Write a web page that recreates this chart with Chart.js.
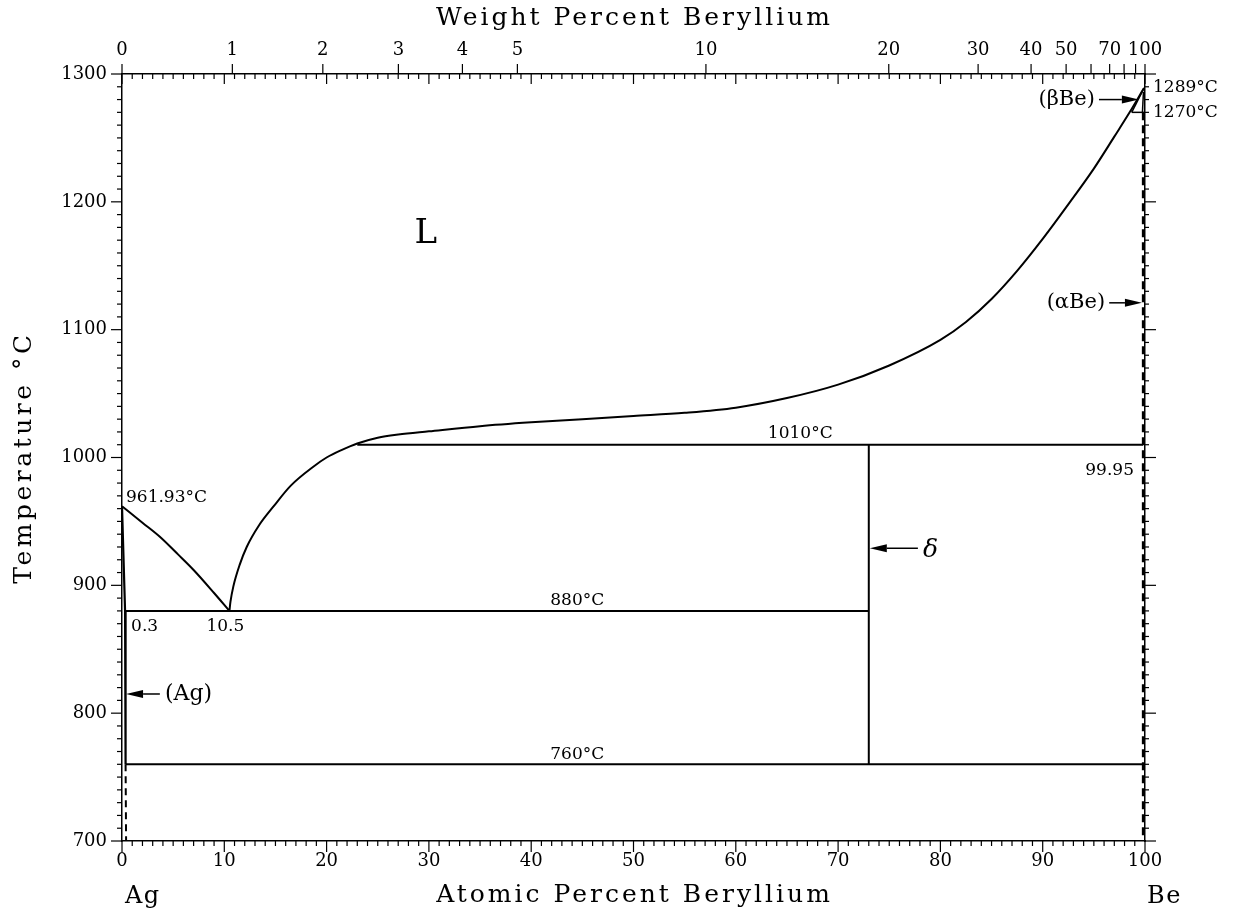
<!DOCTYPE html>
<html><head><meta charset="utf-8">
<script src="https://cdn.jsdelivr.net/npm/chart.js@4/dist/chart.umd.min.js"></script>
<style>html,body{margin:0;padding:0;background:#fff;}#wrap{width:1233px;height:916px;}</style>
</head><body><div id="wrap"><canvas id="c" width="1233" height="916"></canvas></div>
<script>
// ---------- data ----------
const atTickValues = [0,10,20,30,40,50,60,70,80,90,100];
const tempTickValues = [700,800,900,1000,1100,1200,1300];
const wtTickValues = [0,1,2,3,4,5,10,20,30,40,50,70,100];
const wtTickLabels = ['0','1','2','3','4','5','10','20','30','40','50','70','100'];
const wtUnlabeled = [60,80,90];

// liquidus, Ag side (Ag melting point to eutectic)
const liqAgAt = [0, 2, 3.7, 5.5, 7, 9, 10.5];
const liqAgT  = [961.93, 949, 938, 924, 912, 894, 880];
// liquidus, from eutectic to Be melting point
const liqBeAt = [10.5, 10.6, 10.88, 11.5, 12.19, 13.4, 14.79, 16.5, 18.7, 20, 21.5, 23, 25, 27, 30, 35, 40, 45, 50, 55, 60, 65, 70, 75, 80, 82.5, 85, 87.5, 90, 92.5, 95, 97, 98.5, 99.9];
const liqBeT  = [880, 887, 899, 916, 930, 947, 961.5, 978, 992.8, 1000, 1006, 1011, 1015.5, 1018, 1020.5, 1024.5, 1027.5, 1030, 1032.5, 1035, 1039, 1046.5, 1057, 1072, 1092, 1106, 1124, 1146, 1171, 1198, 1226, 1251, 1270, 1289];
// (Ag) solvus / solidus
const agSolidAt = [0, 0.3, 0.35];
const agSolidT  = [961.93, 880, 760];
const agDashAt  = [0.35, 0.4];
const agDashT   = [760, 700];
// (Be) side
const beSolidusAt = [99.9, 98.7];
const beSolidusT  = [1289, 1270];
const beTrans1270At = [98.7, 99.95];
const beTrans1270T  = [1270, 1270];
const beBetaSolvAt = [99.75, 99.85];
const beBetaSolvT  = [1270, 1286];
const beDashAt = [99.8, 99.8];
const beDashT  = [1270, 700];
// invariant lines
const iso1010At = [23, 99.8];   const iso1010T = [1010, 1010];
const iso880At  = [0.3, 73];    const iso880T  = [880, 880];
const iso760At  = [0.35, 99.8]; const iso760T  = [760, 760];
const deltaAt   = [73, 73];     const deltaT   = [760, 1010];

// ---------- helpers ----------
const pts = (xs, ys) => xs.map((v, i) => ({x: v, y: ys[i]}));
const wtToAt = w => { if (w >= 100) return 100; const a = w / 9.012, b = (100 - w) / 107.868; return 100 * a / (a + b); };
const FONT = 'DejaVu Serif';

function ds(xs, ys, opts) {
  return Object.assign({
    data: pts(xs, ys), showLine: true, borderColor: '#000', borderWidth: 2,
    pointRadius: 0, fill: false, tension: 0, xAxisID: 'x', yAxisID: 'y'
  }, opts || {});
}

const datasets = [
  ds(liqAgAt, liqAgT, {cubicInterpolationMode: 'monotone'}),
  ds(liqBeAt, liqBeT, {cubicInterpolationMode: 'monotone'}),
  ds(agSolidAt, agSolidT, {borderWidth: 2.2}),
  ds(agDashAt, agDashT, {borderDash: [7, 5]}),
  ds(beSolidusAt, beSolidusT, {borderWidth: 1.5}),
  ds(beTrans1270At, beTrans1270T, {borderWidth: 1.5}),
  ds(beBetaSolvAt, beBetaSolvT, {borderWidth: 1.5}),
  ds(beDashAt, beDashT, {borderDash: [8, 5], borderWidth: 2.2}),
  ds(iso1010At, iso1010T),
  ds(iso880At, iso880T),
  ds(iso760At, iso760T),
  ds(deltaAt, deltaT)
];

// ---------- decorations ----------
const marks = {
  id: 'marks',
  afterDraw(chart) {
    const {ctx, chartArea: a, scales} = chart;
    const X = v => scales.x.getPixelForValue(v);
    const Y = v => scales.y.getPixelForValue(v);
    ctx.save();
    ctx.strokeStyle = '#000'; ctx.fillStyle = '#000'; ctx.lineWidth = 1.2;
    const seg = (x1, y1, x2, y2) => { ctx.beginPath(); ctx.moveTo(x1, y1); ctx.lineTo(x2, y2); ctx.stroke(); };
    // bottom (outside) and top at% (inside)
    for (let v = 0; v <= 100; v += 1) {
      const p = X(v), major = v % 10 === 0;
      seg(p, a.bottom, p, a.bottom + (major ? 11 : 5));
      seg(p, a.top, p, a.top + (major ? 10 : 5));
    }
    // top weight-percent ticks (outside)
    wtTickValues.concat(wtUnlabeled).forEach(w => { const p = X(wtToAt(w)); seg(p, a.top, p, a.top - 10); });
    // left / right temperature ticks
    for (let t = 700; t <= 1300; t += 10) {
      const p = Y(t), major = t % 100 === 0;
      seg(a.left - (major ? 11 : 5), p, a.left, p);
      seg(a.right, p, a.right + (major ? 11 : 4), p);
    }
    // arrows
    const arrow = (x1, y1, x2, y2) => {
      const ang = Math.atan2(y2 - y1, x2 - x1), L = 17, W = 4;
      ctx.lineWidth = 1.5;
      seg(x1, y1, x2 - L * Math.cos(ang), y2 - L * Math.sin(ang));
      ctx.beginPath();
      ctx.moveTo(x2, y2);
      ctx.lineTo(x2 - L * Math.cos(ang) + W * Math.sin(ang), y2 - L * Math.sin(ang) - W * Math.cos(ang));
      ctx.lineTo(x2 - L * Math.cos(ang) - W * Math.sin(ang), y2 - L * Math.sin(ang) + W * Math.cos(ang));
      ctx.closePath(); ctx.fill();
    };
    arrow(X(77.8), Y(929), X(73) + 1, Y(929));
    arrow(X(3.7), Y(815), X(0.4), Y(815));
    arrow(X(96.5), Y(1121), X(99.8) - 1, Y(1121));
    arrow(X(95.5), Y(1280), X(99.4), Y(1280));

    const txt = (s, x, y, size, align, extra) => {
      ctx.font = (extra || '') + size + 'px "' + FONT + '"';
      ctx.textAlign = align || 'left'; ctx.textBaseline = 'middle';
      ctx.fillText(s, x, y);
    };
    txt('961.93°C', X(0) + 4, Y(961.93) - 9, 17);
    txt('0.3', X(0.3) + 6, Y(880) + 16, 17);
    txt('10.5', X(10.5) - 4, Y(880) + 16, 17, 'center');
    txt('880°C', X(44.5), Y(880) - 10, 17, 'center');
    txt('760°C', X(44.5), Y(760) - 10, 17, 'center');
    txt('1010°C', X(66.3), Y(1010) - 11, 17, 'center');
    txt('99.95', X(99.8) - 9, Y(990), 17, 'right');
    txt('1289°C', a.right + 8, Y(1289), 17);
    txt('1270°C', a.right + 8, Y(1270), 17);
    txt('L', X(29.7), Y(1175), 34, 'center');
    txt('δ', X(78.3), Y(929) + 2, 25, 'left', 'italic ');
    txt('(Ag)', X(4.2), Y(815), 22);
    txt('(αBe)', X(96.1), Y(1121), 21, 'right');
    txt('(βBe)', X(95.1), Y(1280), 21, 'right');

    // titles
    ctx.letterSpacing = '3px';
    txt('Weight Percent Beryllium', (a.left + a.right) / 2 + 1, 18, 25, 'center');
    txt('Atomic Percent Beryllium', (a.left + a.right) / 2 + 1, 895, 25, 'center');
    ctx.letterSpacing = '1.5px';
    txt('Ag', a.left + 3, 897, 24);
    txt('Be', a.right + 2, 897, 24);
    ctx.save();
    ctx.translate(24, (a.top + a.bottom) / 2);
    ctx.rotate(-Math.PI / 2);
    ctx.letterSpacing = '3.5px';
    txt('Temperature °C', 0, 0, 25, 'center');
    ctx.restore();
    ctx.letterSpacing = '0px';
    ctx.restore();
  }
};

const border = {display: true, color: '#000', width: 1.5};
const tickFont = {family: FONT, size: 18};
const plain = v => String(Math.round(v));

new Chart(document.getElementById('c'), {
  type: 'scatter',
  data: {datasets},
  options: {
    responsive: false, animation: false, devicePixelRatio: 1,
    layout: {padding: 0},
    plugins: {legend: {display: false}, tooltip: {enabled: false}},
    scales: {
      x: {
        type: 'linear', position: 'bottom', min: 0, max: 100,
        grid: {display: false, drawTicks: false}, border,
        afterBuildTicks: s => { s.ticks = atTickValues.map(v => ({value: v})); },
        ticks: {autoSkip: false, maxRotation: 0, padding: 10, font: tickFont, color: '#000', callback: plain},
        afterFit: s => { s.height = 75; }
      },
      x2: {
        type: 'linear', position: 'top', min: 0, max: 100,
        grid: {display: false, drawTicks: false}, border,
        afterBuildTicks: s => { s.ticks = wtTickValues.map(w => ({value: wtToAt(w)})); },
        ticks: {autoSkip: false, maxRotation: 0, padding: 13, font: tickFont, color: '#000',
          callback: (v, i) => wtTickLabels[i]},
        afterFit: s => { s.height = 74; }
      },
      y: {
        type: 'linear', position: 'left', min: 700, max: 1300,
        grid: {display: false, drawTicks: false}, border,
        afterBuildTicks: s => { s.ticks = tempTickValues.map(v => ({value: v})); },
        ticks: {autoSkip: false, padding: 15, font: tickFont, color: '#000', callback: plain},
        afterFit: s => { s.width = 122; }
      },
      y2: {
        type: 'linear', position: 'right', min: 700, max: 1300,
        grid: {display: false, drawTicks: false}, border,
        ticks: {display: false},
        afterFit: s => { s.width = 88; }
      }
    }
  },
  plugins: [marks]
});
</script></body></html>
